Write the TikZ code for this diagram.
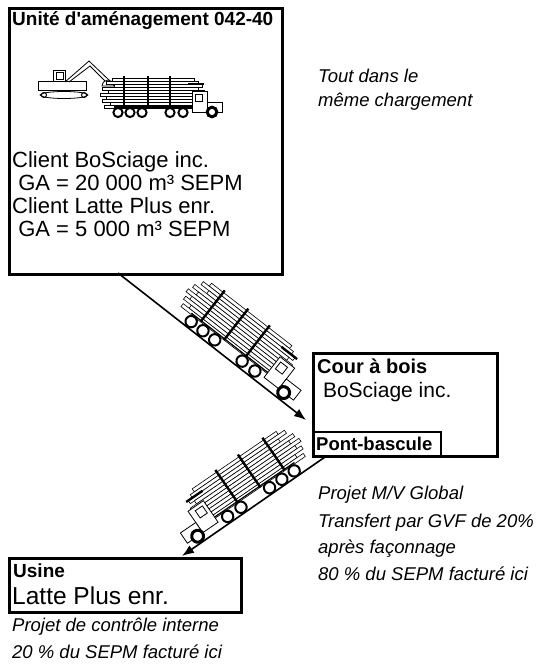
\documentclass[tikz,border=0pt]{standalone}
\usepackage{fontspec}
\setmainfont{Liberation Sans}
\usetikzlibrary{arrows.meta,positioning}
\tikzstyle{areabox} = [draw, line width=3pt, inner sep=0pt, anchor=north west]
\tikzstyle{weighbox} = [draw, line width=2pt, inner sep=0pt, anchor=north west]
\tikzstyle{boxtitle} = [inner sep=0pt, anchor=base west, font=\bfseries\fontsize{19}{22}\selectfont]
\tikzstyle{boxtext} = [inner sep=0pt, anchor=base west, font=\fontsize{22}{24}\selectfont]
\tikzstyle{note} = [inner sep=0pt, anchor=base west, font=\itshape\fontsize{18.5}{20}\selectfont]
\tikzstyle{road} = [draw, line width=1.6pt, -{Latex[length=12pt,width=9pt]}]
\tikzset{logtruck/.pic={
  % logs
  \foreach \ly/\la/\lb in {-40/-6/76, -37/-12/80, -34/-4/84, -31/-16/80, -28/-10/86, -25/-18/80, -22/-12/84, -19/-16/78, -16/-8/82, -13/-14/80}
    \draw[fill=white, line width=0.6pt] (\la,\ly) rectangle (\lb,\ly+3);
  \draw[line width=1.2pt] (-4,-11) -- (88,-11);
  % stakes
  \foreach \sx in {6,30,52}
    \draw[line width=2.4pt] (\sx,-42) -- (\sx,-10);
  % cab
  \draw[line width=2.4pt] (70,-34) -- (86,-34);
  \draw[fill=white, line width=0.8pt] (74,-27) rectangle (89,-6);
  \draw[line width=0.8pt] (77,-24) rectangle (84,-17);
  \draw[fill=white, line width=0.8pt] (89,-16) rectangle (104,-6);
  % wheels
  \foreach \wx in {0,12,24,52,65}
    \draw[fill=white, line width=2pt] (\wx,-5.5) circle (4.6);
  \draw[fill=white, line width=3pt] (94,-6) circle (4.8);
}}

\begin{document}
\begin{tikzpicture}[x=1pt,y=-1pt]
\useasboundingbox (0,0) rectangle (537,664);

% unite d'amenagement
\node (ua) [areabox, minimum width=273pt, minimum height=266pt] at (8,7) {};
\node (uat) [boxtitle] at (12,25) {Unité d\textquotesingle aménagement 042-40};
% loader
\draw[line width=0.8pt] (64,95) ellipse (24 and 3.5);
\draw[line width=1pt] (44,95) circle (2.5) (84,95) circle (2.5);
\draw[fill=white, line width=0.8pt] (38,81) rectangle (86,90);
\draw[fill=white, line width=0.8pt] (53,70) rectangle (65,81);
\draw[line width=0.8pt] (56,72) rectangle (63,79);
\draw[line width=0.8pt] (65,82) -- (89,61) -- (110,81) (69,82) -- (90,66) -- (106,82);
\draw[fill=white, line width=0.8pt] (102,86) .. controls (103,78) and (113,78) .. (114,86) -- cycle;
\pic at (118,118) {logtruck};
\foreach \txt [count=\i] in {Client BoSciage inc., \ GA = 20 000 m³ SEPM, Client Latte Plus enr., \ GA = 5 000 m³ SEPM}
  \node (ua\i) [boxtext] at (12,144+23*\i) {\txt};
\node (tout1) [note] at (318,82) {Tout dans le};
\node (tout2) [note] at (318,106) {même chargement};

% cour a bois
\node (cour) [areabox, minimum width=184pt, minimum height=103pt] at (312,352) {};
\node (court) [boxtitle, font=\bfseries\fontsize{20}{22}\selectfont] at (317,373) {Cour à bois};
\node (cours) [boxtext, font=\fontsize{21}{24}\selectfont] at (317,397) {\ BoSciage inc.};
\node (pont) [weighbox, minimum width=128pt, minimum height=24pt] at (312,431) {};
\node (pontt) [boxtitle, font=\bfseries\fontsize{18.5}{20}\selectfont] at (316,450) {Pont-bascule};
\node (mv1) [note] at (318,499) {Projet M/V Global};
\node (mv2) [note] at (318,527) {Transfert par GVF de 20\%};
\node (mv3) [note] at (318,553) {après façonnage};
\node (mv4) [note] at (318,580) {80 \% du SEPM facturé ici};

% usine
\node (usine) [areabox, minimum width=232pt, minimum height=54pt] at (8,557) {};
\node (usinet) [boxtitle] at (13,577) {Usine};
\node (usines) [boxtext, font=\fontsize{24.5}{26}\selectfont] at (12,604) {Latte Plus enr.};
\node (ci1) [note] at (12,631) {Projet de contrôle interne};
\node (ci2) [note] at (12,658) {20 \% du SEPM facturé ici};

% transport
\coordinate (r1a) at (118,273);
\coordinate (r1b) at (306,420);
\draw[road] (r1a) -- (r1b);
\pic[rotate=-37.8, scale=1.24] at (187,327) {logtruck};
\coordinate (r2a) at (325,457);
\coordinate (r2b) at (182,556);
\draw[road] (r2a) -- (r2b);
\pic[rotate=34.4, xscale=-1, scale=1.24] at (298,476.5) {logtruck};
\end{tikzpicture}
\end{document}
